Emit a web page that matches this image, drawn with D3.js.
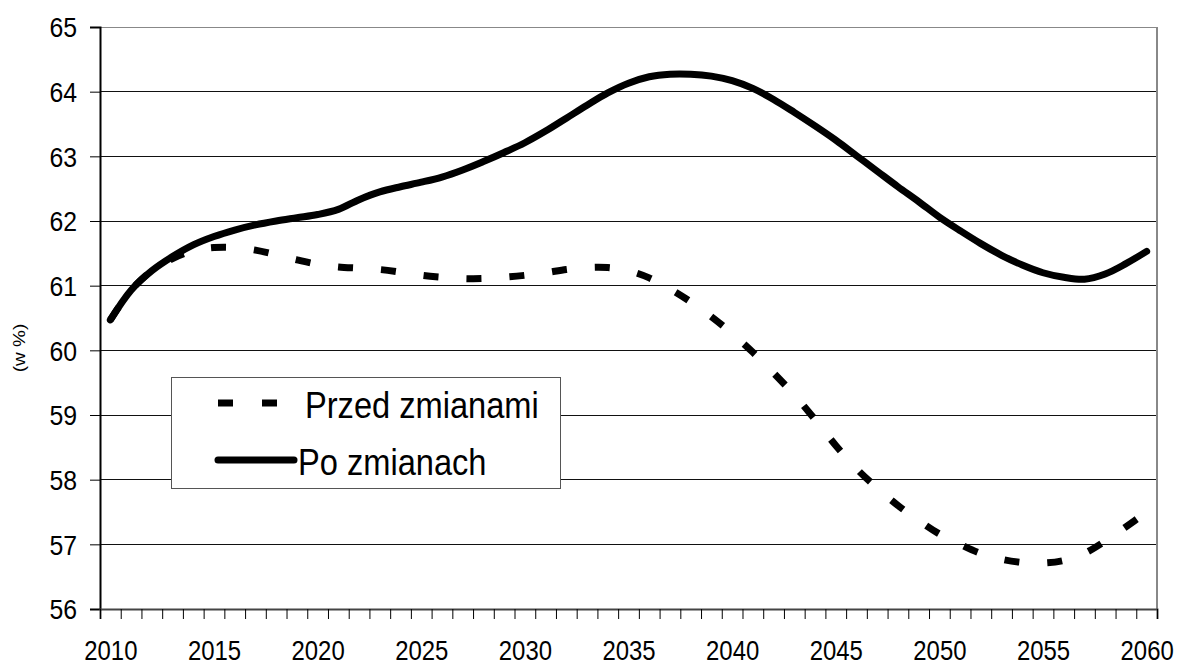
<!DOCTYPE html>
<html><head><meta charset="utf-8">
<script src="https://cdn.jsdelivr.net/npm/d3@7"></script>
<style>
body{margin:0;background:#fff;}
text{font-family:"Liberation Sans",Arial,sans-serif;fill:#000;}
</style></head>
<body><svg id="c" width="1177" height="666"></svg>
<script>
const years = d3.range(2010, 2061);
const przedZmianami = [60.47,60.93,61.23,61.42,61.54,61.59,61.59,61.55,61.48,61.40,
  61.33,61.29,61.27,61.25,61.21,61.16,61.13,61.11,61.11,61.13,
  61.16,61.20,61.25,61.28,61.28,61.23,61.12,60.95,60.75,60.52,
  60.26,59.97,59.65,59.31,58.93,58.53,58.17,57.87,57.60,57.37,
  57.16,57.00,56.86,56.77,56.72,56.71,56.75,56.86,57.05,57.27,57.50];
const poZmianach = [60.47,60.93,61.23,61.45,61.63,61.76,61.86,61.94,62.00,62.05,
  62.10,62.18,62.33,62.45,62.53,62.60,62.68,62.79,62.92,63.06,
  63.21,63.39,63.59,63.79,63.98,64.13,64.23,64.27,64.27,64.24,
  64.17,64.05,63.88,63.68,63.47,63.25,63.01,62.77,62.53,62.30,
  62.06,61.85,61.65,61.47,61.32,61.20,61.13,61.10,61.18,61.34,61.53];
const yTicks = [56,57,58,59,60,61,62,63,64,65];
const xLabels = [2010,2015,2020,2025,2030,2035,2040,2045,2050,2055,2060];
const seriesNames = ["Przed zmianami","Po zmianach"];
const yTitle = "(w %)";

const svg = d3.select("#c");
const L=100, R=1157, T=27, B=609;
const SX = 0.87;
const x = d3.scaleLinear().domain([2009.5,2060.5]).range([L,R]);
const y = d3.scaleLinear().domain([56,65]).range([B,T]);

// gridlines
svg.append("g").selectAll("line").data(yTicks.filter(v=>v>56)).join("line")
  .attr("x1",L).attr("x2",R).attr("y1",d=>y(d)).attr("y2",d=>y(d))
  .attr("stroke",d=>d===65?"#888":"#111").attr("stroke-width",1).attr("shape-rendering","crispEdges");
// right border
svg.append("line").attr("x1",R).attr("x2",R).attr("y1",T).attr("y2",B)
  .attr("stroke","#888").attr("stroke-width",2).attr("shape-rendering","crispEdges");

// y axis
const yAxis = d3.axisLeft(y).tickValues(yTicks).tickSize(10).tickFormat(d3.format("d"));
const gy = svg.append("g").attr("transform",`translate(${L},0)`).call(yAxis);
gy.select(".domain").attr("stroke","#000").attr("stroke-width",2);
gy.selectAll(".tick line").attr("stroke","#000");
gy.selectAll("text").attr("font-size",28.5).attr("font-family",null)
  .attr("x",0).attr("dy","0.35em").attr("transform",`translate(-23,0) scale(${SX},1)`);

// x axis ticks (category boundaries)
const bounds = d3.range(2009.5, 2061, 1);
const xAxis = d3.axisBottom(x).tickValues(bounds).tickSize(10).tickFormat("");
const gx = svg.append("g").attr("transform",`translate(0,${B})`).call(xAxis);
gx.select(".domain").attr("stroke","#444").attr("stroke-width",2);
gx.selectAll(".tick line").attr("stroke","#000");
const xLab = d3.axisBottom(x).tickValues(xLabels).tickSize(0).tickPadding(31).tickFormat(d3.format("d"));
const gx2 = svg.append("g").attr("transform",`translate(0,${B})`).call(xLab);
gx2.select(".domain").remove();
gx2.selectAll("text").attr("font-size",27.5).attr("font-family",null)
  .attr("transform",`scale(${SX},1)`);

// y title
svg.append("text").attr("transform",`translate(25,348) rotate(-90) scale(1,${SX})`)
  .attr("text-anchor","middle").attr("font-size",19).text(yTitle);

const line = d3.line().x((d,i)=>x(years[i])).y(d=>y(d)).curve(d3.curveCatmullRom.alpha(0.5));

svg.append("path").datum(przedZmianami).attr("d",line)
  .attr("fill","none").attr("stroke","#000").attr("stroke-width",7)
  .attr("stroke-dasharray","15,28");
svg.append("path").datum(poZmianach).attr("d",line)
  .attr("fill","none").attr("stroke","#000").attr("stroke-width",7)
  .attr("stroke-linecap","round").attr("stroke-linejoin","round");

// legend
const lg = svg.append("g");
lg.append("rect").attr("x",171.5).attr("y",377.5).attr("width",389).attr("height",111)
  .attr("fill","#fff").attr("stroke","#555").attr("stroke-width",1);
lg.append("line").attr("x1",218).attr("x2",277).attr("y1",403).attr("y2",403)
  .attr("stroke","#000").attr("stroke-width",7).attr("stroke-dasharray","15,29");
lg.append("line").attr("x1",218).attr("x2",294).attr("y1",460).attr("y2",460)
  .attr("stroke","#000").attr("stroke-width",7).attr("stroke-linecap","round");
lg.append("text").attr("transform",`translate(305,418) scale(${SX},1)`).attr("font-size",37.5).text(seriesNames[0]);
lg.append("text").attr("transform",`translate(298,475) scale(${SX},1)`).attr("font-size",37.5).text(seriesNames[1]);
</script></body></html>
